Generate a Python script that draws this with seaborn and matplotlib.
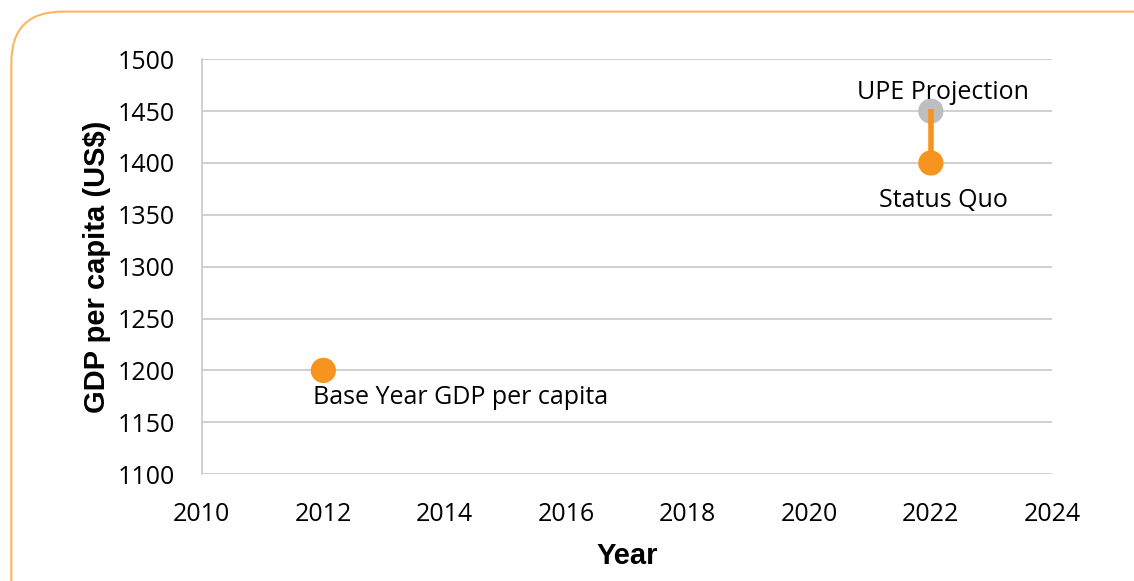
import pandas as pd
import numpy as np
import matplotlib
matplotlib.use("Agg")
import matplotlib.pyplot as plt
import seaborn as sns
from matplotlib.patches import FancyBboxPatch

# data
years = [2012, 2022, 2022]
gdp = [1200, 1400, 1450]
labels = ["Base Year GDP per capita", "Status Quo", "UPE Projection"]
kinds = ["actual", "actual", "projection"]

x_ticks = list(range(2010, 2025, 2))
y_ticks = list(range(1100, 1501, 50))

orange = "#F7941D"
grey_pt = "#BDBEC0"
grid_c = "#C8C8C8"

df = pd.DataFrame({"Year": years, "GDP": gdp, "Label": labels, "Kind": kinds})

sns.set_style("white")
plt.rcParams["font.family"] = ["Open Sans", "DejaVu Sans"]
plt.rcParams["text.color"] = "black"
plt.rcParams["xtick.color"] = "black"
plt.rcParams["ytick.color"] = "black"
plt.rcParams["axes.labelcolor"] = "black"

fig = plt.figure(figsize=(11.34, 5.81), dpi=100)
ax = fig.add_axes([0.178, 0.184, 0.750, 0.714])

# rounded orange frame
frame = FancyBboxPatch((0.010, -0.2), 1.2, 1.18, boxstyle="round,pad=0,rounding_size=0.045",
                       transform=fig.transFigure, fill=False, edgecolor="#FBB664",
                       linewidth=1.5, mutation_aspect=1134 / 581)
fig.patches.append(frame)

sns.scatterplot(data=df, x="Year", y="GDP", hue="Kind",
                palette={"actual": orange, "projection": grey_pt},
                s=330, edgecolor="none", legend=False, ax=ax, zorder=3)
# connector from status quo to projection
ax.plot([2022, 2022], [1400, 1452], color=orange, lw=4, zorder=5, solid_capstyle="butt")

ax.set_xlim(2010, 2024)
ax.set_ylim(1100, 1500)
ax.set_xticks(x_ticks)
ax.set_yticks(y_ticks)
ax.yaxis.grid(True, color=grid_c, lw=1.2)
ax.xaxis.grid(False)
for s in ["top", "right", "bottom"]:
    ax.spines[s].set_visible(False)
ax.spines["left"].set_color(grid_c)
ax.spines["left"].set_linewidth(1.2)
ax.tick_params(axis="y", length=8.5, color=grid_c, width=1.2, labelsize=18, pad=11)
ax.tick_params(axis="x", length=0, labelsize=18, pad=20)

ax.set_xlabel("Year", fontsize=21, fontweight="bold", labelpad=11,
              fontfamily=["Liberation Sans", "DejaVu Sans"])
ax.set_ylabel("GDP per capita (US$)", fontsize=21, fontweight="bold", labelpad=5,
              fontfamily=["Liberation Sans", "DejaVu Sans"])

ax.text(2012 - 0.17, 1174, labels[0], fontsize=18, ha="left", va="center")
ax.text(2022.2, 1364, labels[1], fontsize=18, ha="center", va="center")
ax.text(2022.2, 1468, labels[2], fontsize=18, ha="center", va="center")

fig.savefig("out.png", dpi=100)
